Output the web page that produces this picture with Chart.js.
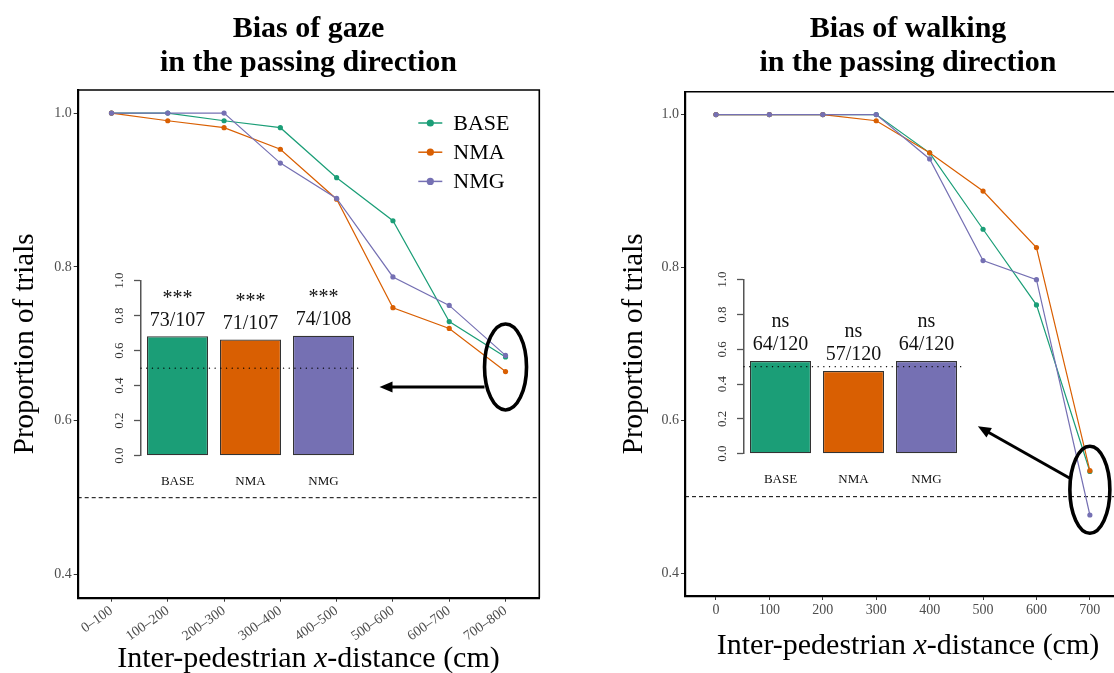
<!DOCTYPE html>
<html>
<head>
<meta charset="utf-8">
<script src="https://cdn.jsdelivr.net/npm/chart.js@4.4.0/dist/chart.umd.min.js"></script>
<style>
  html, body { margin: 0; padding: 0; background: #fff; overflow: hidden; width: 1114px; height: 673px; }
  .box { position: absolute; }
</style>
</head>
<body>
<div class="box" style="left:0;top:0"><canvas id="gaze" width="580" height="673"></canvas></div>
<div class="box" style="left:580px;top:0"><canvas id="walk" width="560" height="673"></canvas></div>
<div class="box" style="left:90px;top:265px"><canvas id="gazeBars" width="290" height="235"></canvas></div>
<div class="box" style="left:690px;top:265px"><canvas id="walkBars" width="290" height="235"></canvas></div>

<script>
// 데이터
var groups = ['BASE', 'NMA', 'NMG'];
var colors = ['#1b9e77', '#d95f02', '#7570b3'];

var gazeBins = ['0–100', '100–200', '200–300', '300–400', '400–500', '500–600', '600–700', '700–800'];
var gazeBase = [1.0, 1.0, 0.990, 0.981, 0.916, 0.860, 0.729, 0.683];
var gazeNma  = [1.0, 0.990, 0.981, 0.953, 0.888, 0.747, 0.720, 0.664];
var gazeNmg  = [1.0, 1.0, 1.0, 0.935, 0.889, 0.787, 0.750, 0.685];

var walkDist = [0, 100, 200, 300, 400, 500, 600, 700];
var walkBase = [1.0, 1.0, 1.0, 1.0, 0.950, 0.850, 0.751, 0.533];
var walkNma  = [1.0, 1.0, 1.0, 0.992, 0.950, 0.900, 0.826, 0.534];
var walkNmg  = [1.0, 1.0, 1.0, 1.0, 0.942, 0.809, 0.784, 0.476];

var yTicks = [0.4, 0.6, 0.8, 1.0];

var gazeShare  = [0.682, 0.664, 0.685];
var gazeCounts = ['73/107', '71/107', '74/108'];
var gazeSig    = ['***', '***', '***'];
var walkShare  = [0.533, 0.475, 0.533];
var walkCounts = ['64/120', '57/120', '64/120'];
var walkSig    = ['ns', 'ns', 'ns'];
var insetTicks = [0, 0.2, 0.4, 0.6, 0.8, 1.0];

var serif = "'Liberation Serif', 'DejaVu Serif', serif";
Chart.defaults.font.family = serif;

// titles, frame, x title, legend, ellipse + arrow
var panelDecor = {
  id: 'panel',
  beforeDatasetsDraw: function (chart) {
    var ctx = chart.ctx, a = chart.chartArea;
    var y = chart.scales.y.getPixelForValue(0.5);
    ctx.save();
    ctx.strokeStyle = '#000';
    ctx.lineWidth = 1;
    ctx.setLineDash([4, 3]);
    ctx.beginPath();
    ctx.moveTo(a.left, y);
    ctx.lineTo(a.right, y);
    ctx.stroke();
    ctx.restore();
  },
  afterDraw: function (chart, args, o) {
    var ctx = chart.ctx, a = chart.chartArea;
    var cx = (a.left + a.right) / 2;
    ctx.save();
    // frame top / right
    ctx.strokeStyle = '#000';
    ctx.lineWidth = 1.6;
    ctx.beginPath();
    ctx.moveTo(a.left, a.top);
    ctx.lineTo(a.right, a.top);
    ctx.lineTo(a.right, a.bottom);
    ctx.stroke();

    // title
    ctx.fillStyle = '#000';
    ctx.textAlign = 'center';
    ctx.textBaseline = 'alphabetic';
    ctx.font = 'bold 30px ' + serif;
    for (var i = 0; i < o.title.length; i++) {
      ctx.fillText(o.title[i], cx, o.titleBase[i]);
    }

    // x title with italic x
    var parts = [['Inter-pedestrian ', ''], ['x', 'italic '], ['-distance (cm)', '']];
    var w = 0;
    parts.forEach(function (p) { ctx.font = p[1] + '30px ' + serif; w += ctx.measureText(p[0]).width; });
    var x = cx - w / 2;
    ctx.textAlign = 'left';
    parts.forEach(function (p) {
      ctx.font = p[1] + '30px ' + serif;
      ctx.fillText(p[0], x, o.xTitleBase);
      x += ctx.measureText(p[0]).width;
    });

    // legend
    if (o.legend) {
      ctx.font = '22px ' + serif;
      ctx.textBaseline = 'middle';
      for (var k = 0; k < groups.length; k++) {
        var ly = a.top + o.legend.top + k * o.legend.step;
        var lx = a.right - o.legend.right;
        ctx.strokeStyle = colors[k];
        ctx.fillStyle = colors[k];
        ctx.lineWidth = 1.5;
        ctx.beginPath();
        ctx.moveTo(lx, ly);
        ctx.lineTo(lx + 24, ly);
        ctx.stroke();
        ctx.beginPath();
        ctx.arc(lx + 12, ly, 3.6, 0, Math.PI * 2);
        ctx.fill();
        ctx.fillStyle = '#000';
        ctx.fillText(groups[k], lx + 35, ly + 1);
      }
    }

    // ellipse round the last points + arrow to the inset
    var e = o.ellipse;
    var ex = chart.scales.x.getPixelForValue(e.x);
    var ey = chart.scales.y.getPixelForValue(e.y);
    ctx.strokeStyle = '#000';
    ctx.fillStyle = '#000';
    ctx.lineWidth = 3.6;
    ctx.beginPath();
    ctx.ellipse(ex, ey, e.rx, e.ry, 0, 0, Math.PI * 2);
    ctx.stroke();
    var x0 = ex + e.from[0], y0 = ey + e.from[1];
    var x1 = ex + e.to[0], y1 = ey + e.to[1];
    var ang = Math.atan2(y1 - y0, x1 - x0);
    ctx.lineWidth = 3;
    ctx.beginPath();
    ctx.moveTo(x0, y0);
    ctx.lineTo(x1 - 10 * Math.cos(ang), y1 - 10 * Math.sin(ang));
    ctx.stroke();
    ctx.beginPath();
    ctx.moveTo(x1, y1);
    ctx.lineTo(x1 - 13 * Math.cos(ang) + 5.5 * Math.sin(ang), y1 - 13 * Math.sin(ang) - 5.5 * Math.cos(ang));
    ctx.lineTo(x1 - 13 * Math.cos(ang) - 5.5 * Math.sin(ang), y1 - 13 * Math.sin(ang) + 5.5 * Math.cos(ang));
    ctx.closePath();
    ctx.fill();
    ctx.restore();
  }
};

function mainChart(id, xs, series, o) {
  return new Chart(document.getElementById(id), {
    type: 'line',
    data: {
      datasets: series.map(function (s, k) {
        return {
          label: groups[k],
          data: xs.map(function (x, i) { return { x: x, y: s[i] }; }),
          borderColor: colors[k],
          backgroundColor: colors[k],
          borderWidth: 1.2,
          pointRadius: 2.6,
          pointBorderWidth: 0,
          tension: 0,
          order: series.length - 1 - k   // NMG on top
        };
      })
    },
    options: {
      responsive: false,
      animation: false,
      events: [],
      layout: { padding: { top: o.padTop, right: o.padRight, left: 0, bottom: 0 } },
      plugins: { legend: { display: false }, tooltip: { enabled: false }, panel: o },
      scales: {
        x: {
          type: 'linear',
          min: o.xMin,
          max: o.xMax,
          afterBuildTicks: function (s) { s.ticks = xs.map(function (v) { return { value: v }; }); },
          afterFit: function (s) { s.height = o.xHeight; },
          grid: { drawOnChartArea: false, tickLength: 4, tickColor: '#333', tickWidth: 1 },
          border: { color: '#000', width: 2.2 },
          ticks: {
            autoSkip: false,
            minRotation: o.rot,
            maxRotation: o.rot,
            padding: o.xPad,
            color: '#4d4d4d',
            font: { size: 14 },
            callback: o.xLabel
          }
        },
        y: {
          min: 0.37,
          max: 1.03,
          afterBuildTicks: function (s) { s.ticks = yTicks.map(function (v) { return { value: v }; }); },
          afterFit: function (s) { s.width = o.yWidth; },
          grid: { drawOnChartArea: false, tickLength: 4, tickColor: '#333', tickWidth: 1 },
          border: { color: '#000', width: 2.2 },
          ticks: {
            padding: 2,
            color: '#4d4d4d',
            font: { size: 14 },
            callback: function (v) { return v.toFixed(1); }
          },
          title: {
            display: true,
            text: 'Proportion of trials',
            color: '#000',
            font: { size: 29 },
            padding: { top: o.yTitlePad, bottom: 0 }
          }
        }
      }
    },
    plugins: [panelDecor]
  });
}

// dotted 0.5 line and labels above bars
var insetDecor = {
  id: 'inset',
  afterDatasetsDraw: function (chart, args, o) {
    var ctx = chart.ctx, a = chart.chartArea;
    var y = chart.scales.y.getPixelForValue(0.5);
    ctx.save();
    ctx.strokeStyle = '#000';
    ctx.lineWidth = 1.3;
    ctx.lineCap = 'round';
    ctx.setLineDash([0.1, 5.6]);
    ctx.beginPath();
    ctx.moveTo(a.left, y);
    ctx.lineTo(a.right, y);
    ctx.stroke();
    ctx.restore();

    ctx.save();
    ctx.fillStyle = '#111';
    ctx.textAlign = 'center';
    ctx.textBaseline = 'middle';
    ctx.font = '20px ' + serif;
    chart.getDatasetMeta(0).data.forEach(function (bar, i) {
      ctx.fillText(o.sig[i], bar.x, bar.y - o.sigGap);
      ctx.fillText(o.counts[i], bar.x, bar.y - 16);
    });
    ctx.restore();
  }
};

function insetChart(id, values, sig, counts, o) {
  return new Chart(document.getElementById(id), {
    type: 'bar',
    data: {
      labels: groups,
      datasets: [{
        data: values,
        backgroundColor: colors,
        borderColor: '#333',
        borderWidth: 1.2,
        borderSkipped: false,
        barPercentage: 0.836,
        categoryPercentage: 1
      }]
    },
    options: {
      responsive: false,
      animation: false,
      events: [],
      layout: { padding: { top: o.top, right: o.right, left: 0, bottom: 0 } },
      plugins: { legend: { display: false }, tooltip: { enabled: false }, inset: { sig: sig, counts: counts, sigGap: o.sigGap } },
      scales: {
        x: {
          grid: { display: false, drawTicks: false },
          border: { display: false },
          afterFit: function (s) { s.height = o.xHeight; },
          ticks: { padding: 18, color: '#111', font: { size: 13 } }
        },
        y: {
          min: 0,
          max: 1,
          afterBuildTicks: function (s) { s.ticks = insetTicks.map(function (v) { return { value: v }; }); },
          afterFit: function (s) { s.width = o.yWidth; },
          grid: { drawOnChartArea: false, tickLength: 7, tickColor: '#555', tickWidth: 1.3 },
          border: { color: '#555', width: 1.5 },
          ticks: {
            minRotation: 90,
            maxRotation: 90,
            crossAlign: 'center',
            padding: 6,
            color: '#333',
            font: { size: 13 },
            callback: function (v) { return v.toFixed(1); }
          }
        }
      }
    },
    plugins: [insetDecor]
  });
}

mainChart('gaze', [0, 1, 2, 3, 4, 5, 6, 7], [gazeBase, gazeNma, gazeNmg], {
  title: ['Bias of gaze', 'in the passing direction'],
  titleBase: [37, 71],
  xTitleBase: 667,
  padTop: 90, padRight: 40.7, yWidth: 77.7, xHeight: 75.3, yTitlePad: 7.6,
  xMin: -0.6, xMax: 7.6, rot: 35, xPad: 1,
  xLabel: function (v) { return gazeBins[v]; },
  legend: { top: 33, step: 29.2, right: 121 },
  ellipse: { x: 7, y: 0.670, rx: 21, ry: 43, from: [-21, 20], to: [-126, 20] }
});

mainChart('walk', walkDist, [walkBase, walkNma, walkNmg], {
  title: ['Bias of walking', 'in the passing direction'],
  titleBase: [37, 71],
  xTitleBase: 654,
  padTop: 91.7, padRight: 9, yWidth: 105, xHeight: 77, yTitlePad: 36.6,
  xMin: -58, xMax: 777, rot: 0, xPad: 2,
  xLabel: function (v) { return String(v); },
  legend: null,
  ellipse: { x: 700, y: 0.509, rx: 20, ry: 43.5, from: [-20, -11.5], to: [-112, -63.5] }
});

insetChart('gazeBars', gazeShare, gazeSig, gazeCounts, { top: 15.7, right: 20, yWidth: 51, xHeight: 44.3, sigGap: 38 });
insetChart('walkBars', walkShare, walkSig, walkCounts, { top: 14.7, right: 17, yWidth: 54, xHeight: 46.3, sigGap: 39 });
</script>
</body>
</html>
